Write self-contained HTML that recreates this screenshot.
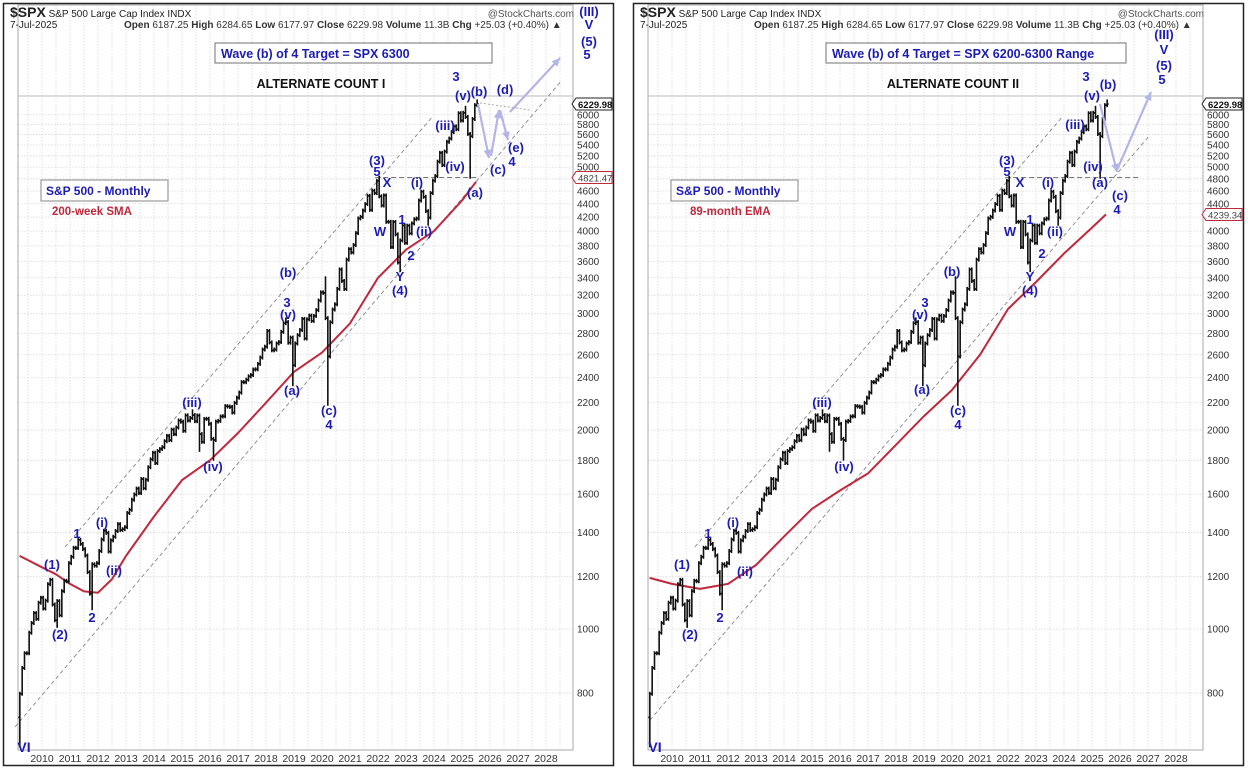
<!DOCTYPE html>
<html><head><meta charset="utf-8"><style>
html,body{margin:0;padding:0;background:#fff;}
svg{display:block;font-family:"Liberation Sans",sans-serif;}
.wl{font-weight:bold;fill:#1c1cb4;font-size:13px;text-anchor:middle;}
.yt{font-size:10px;fill:#333;}
.xt{font-size:10.5px;fill:#333;text-anchor:middle;}
</style></head><body>
<svg id="chart" width="1248" height="770" viewBox="0 0 1248 770"></svg>
<script>
// ---- data ----
const startYear = 2009, startMonth = 3; // first monthly bar: Mar 2009
const firstOpen = 735;
const closes = [
798,873,919,919,987,1021,1057,1036,1096,1115,
1074,1104,1169,1187,1089,1031,1102,1049,1141,1183,1181,1258,
1286,1327,1326,1364,1345,1321,1292,1219,1131,1253,1247,1258,
1312,1366,1408,1398,1310,1362,1379,1407,1441,1412,1416,1426,
1498,1515,1569,1598,1631,1606,1686,1633,1682,1757,1806,1848,
1783,1859,1872,1884,1924,1960,1931,2003,1972,2018,2068,2059,
1995,2105,2068,2086,2107,2063,2104,1972,1920,2079,2080,2044,
1940,1932,2060,2065,2097,2099,2174,2171,2168,2126,2199,2239,
2279,2364,2363,2384,2412,2423,2470,2472,2519,2575,2648,2674,
2824,2714,2641,2648,2705,2718,2816,2902,2914,2712,2760,2507,
2704,2784,2834,2946,2752,2942,2980,2926,2977,3038,3141,3231,
3226,2954,2585,2912,3044,3100,3271,3500,3363,3270,3622,3756,
3714,3811,3973,4181,4204,4298,4395,4523,4308,4605,4567,4766,
4516,4374,4530,4132,4132,3785,4130,3955,3586,3872,4080,3840,
4077,3970,4109,4169,4180,4450,4589,4508,4288,4194,4568,4770,
4846,5096,5254,5036,5278,5460,5522,5648,5762,5705,6032,5882,
6041,5955,5612,5569,5912,6205,6230];
const extremeLows = [[2009,3,667],[2010,7,1011],[2011,10,1075],[2015,8,1867],[2016,2,1810],[2018,12,2347],[2020,3,2192],[2022,10,3492],[2023,10,4104],[2025,4,4835]];
const extremeHighs = [[2015,5,2135],[2018,9,2941],[2020,2,3394],[2022,1,4818],[2025,2,6147],[2025,7,6285]];
const smaTimes = [2009.2,2010,2010.5,2011,2011.5,2012,2012.5,2013,2014,2015,2016,2017,2018,2019,2020,2021,2022,2023,2024,2025,2025.5];
const smaValues = [1290,1240,1210,1170,1140,1135,1190,1290,1480,1680,1800,1980,2200,2450,2620,2900,3400,3750,4000,4450,4750];
const emaTimes = [2009.2,2010,2011,2012,2013,2014,2015,2016,2017,2018,2019,2020,2021,2022,2023,2024,2025,2025.5];
const emaValues = [1195,1170,1150,1170,1250,1380,1520,1620,1720,1900,2100,2300,2600,3050,3350,3700,4050,4240];
const yTicks = [800,1000,1200,1400,1600,1800,2000,2200,2400,2600,2800,3000,3200,3400,3600,3800,4000,4200,4400,4600,4800,5000,5200,5400,5600,5800,6000];
const xYears = [2010,2011,2012,2013,2014,2015,2016,2017,2018,2019,2020,2021,2022,2023,2024,2025,2026,2027,2028];

// ---- axes ----
const PL=18, PR=573, PT=5, PB=750;
function xs(t){return 42+(t-2010)*28;}
function ys(v){return 629-287*Math.log(v/1000);}
const NS="http://www.w3.org/2000/svg";
const svg=document.getElementById('chart');
function mk(tag,attrs,parent){const e=document.createElementNS(NS,tag);for(const k in attrs)e.setAttribute(k,attrs[k]);(parent||svg).appendChild(e);return e;}
function txt(s,attrs,parent){const e=mk('text',attrs,parent);e.textContent=s;return e;}

function drawPanel(ox, cfg){
  const g=mk('g',{transform:'translate('+ox+',0)'});
  
  
  mk('rect',{x:3.5,y:3.5,width:610,height:762,fill:'#fff',stroke:'#222','stroke-width':1.5},g);
  const grid=mk('g',{stroke:'#d8d8d8','stroke-width':0.8,'stroke-dasharray':'1.5,1.5'},g);
  
  
  for(let y=2009.5;y<=2028.6;y+=0.5){const x=xs(y);if(x>PL&&x<PR)mk('line',{x1:x,x2:x,y1:PT,y2:PB},grid);}
  yTicks.forEach(v=>{mk('line',{x1:PL,x2:PR,y1:ys(v),y2:ys(v)},grid);});
  mk('rect',{x:PL,y:PT,width:PR-PL,height:PB-PT,fill:'none',stroke:'#aaa','stroke-width':1},g);
  mk('line',{x1:PL,x2:PR,y1:96,y2:96,stroke:'#bbb','stroke-width':1},g);
  const yl=mk('g',{},g);
  
  
  yTicks.forEach(v=>{const y=ys(v);if(Math.abs(y-ys(cfg.maLabel))>7)txt(String(v),{x:577,y:y+3.5,class:'yt'},yl);});
  const xl=mk('g',{},g);
  
  
  xYears.forEach(yv=>txt(String(yv),{x:xs(yv),y:762,class:'xt'},xl));
  cfg.channels.forEach(c=>{const l=mk('line',{x1:xs(c[0]),y1:ys(c[1]),x2:xs(c[2]),y2:ys(c[3]),stroke:'#888','stroke-width':0.9,'stroke-dasharray':'4,3'},g);
    
    });
  const hl=mk('line',{x1:xs(2021.9),x2:xs(cfg.hEnd),y1:ys(4821),y2:ys(4821),stroke:'#777','stroke-width':1,'stroke-dasharray':'5,3'},g);
  
  
  const ma=mk('path',{d:cfg.maT.map((t,i)=>(i?'L':'M')+xs(t).toFixed(1)+','+ys(cfg.maV[i]).toFixed(1)).join(''),fill:'none',stroke:'#c0283c','stroke-width':2,'stroke-linejoin':'round'},g);
  
  
  const bars=mk('g',{stroke:'#111','stroke-width':1.6},g);
  
  
  let prev=firstOpen;
  closes.forEach((c,i)=>{
    const m=startMonth-1+i, yr=startYear+Math.floor(m/12), mo=m%12+1;
    const t=yr+(mo-1)/12+1/24, x=xs(t);
    let hi=Math.max(prev,c), lo=Math.min(prev,c);
    const el=extremeLows.find(e=>e[0]===yr&&e[1]===mo); if(el)lo=Math.min(lo,el[2]);
    const eh=extremeHighs.find(e=>e[0]===yr&&e[1]===mo); if(eh)hi=Math.max(hi,eh[2]);
    const b=mk('line',{x1:x,x2:x,y1:ys(hi)-2,y2:ys(lo)+2},bars);
    
    
    mk('line',{x1:x-1.5,x2:x,y1:ys(prev),y2:ys(prev)},bars);
    mk('line',{x1:x,x2:x+1.5,y1:ys(c),y2:ys(c)},bars);
    prev=c;
  });
  const ar=mk('g',{stroke:'#b4b4e6','stroke-width':2.2,fill:'none'},g);
  
  
  cfg.arrows.forEach(p=>{mk('polyline',{points:p.map(q=>q.join(',')).join(' ')},ar);
    const a=p[p.length-2],b=p[p.length-1],ang=Math.atan2(b[1]-a[1],b[0]-a[0]);
    const h=[[b[0],b[1]],[b[0]-9*Math.cos(ang-0.45),b[1]-9*Math.sin(ang-0.45)],[b[0]-9*Math.cos(ang+0.45),b[1]-9*Math.sin(ang+0.45)]];
    mk('polygon',{points:h.map(q=>q.join(',')).join(' '),fill:'#b4b4e6',stroke:'none'},ar);});
  if(cfg.dotted)mk('line',{x1:cfg.dotted[0],y1:cfg.dotted[1],x2:cfg.dotted[2],y2:cfg.dotted[3],stroke:'#aaa','stroke-width':1,'stroke-dasharray':'2,2'},g);
  const wl=mk('g',{},g);
  
  
  cfg.labels.forEach(l=>{const t=txt(l[0],{x:l[1],y:l[2]+4,class:'wl'},wl);if(l[3])t.setAttribute('style',l[3]);});
  const hd=mk('g',{},g);
  
  
  const h1=txt('',{x:10,y:17,'font-size':'10px',fill:'#222'},hd);
  h1.innerHTML='<tspan font-weight="bold" font-size="14px">$SPX</tspan> S&amp;P 500 Large Cap Index INDX';
  txt('@StockCharts.com',{x:574,y:17,'font-size':'10px',fill:'#555','text-anchor':'end'},hd);
  txt('7-Jul-2025',{x:10,y:28,'font-size':'10px',fill:'#222'},hd);
  const h2=txt('',{x:124,y:28,'font-size':'10px',fill:'#333'},hd);
  h2.innerHTML='<tspan font-weight="bold">Open</tspan> 6187.25 <tspan font-weight="bold">High</tspan> 6284.65 <tspan font-weight="bold">Low</tspan> 6177.97 <tspan font-weight="bold">Close</tspan> 6229.98 <tspan font-weight="bold">Volume</tspan> 11.3B <tspan font-weight="bold">Chg</tspan> +25.03 (+0.40%) ▲';
  const tb=mk('g',{},g);
  
  
  mk('rect',{x:cfg.box[0],y:43,width:cfg.box[1],height:20,fill:'#fff',stroke:'#888','stroke-width':1.2},tb);
  txt(cfg.target,{x:cfg.box[0]+6,y:58,'font-size':'12.5px','font-weight':'bold',fill:'#1c1cb4'},tb);
  const tt=txt(cfg.title,{x:cfg.titleX,y:88,'font-size':'12.5px','font-weight':'bold',fill:'#111','text-anchor':'middle'},g);
  
  
  const lg=mk('g',{},g);
  
  
  mk('rect',{x:41,y:180,width:127,height:21,fill:'#fff',stroke:'#999','stroke-width':1.2},lg);
  txt('S&P 500 - Monthly',{x:46,y:195,'font-size':'12px','font-weight':'bold',fill:'#1c1cb4'},lg);
  txt(cfg.maName,{x:cfg.maNameX,y:215,'font-size':'11.5px','font-weight':'bold',fill:'#c0283c'},lg);
  const p1=mk('g',{},g);
  
  
  mk('path',{d:'M572,'+ys(6230)+' l4,-6 h36 v12 h-36 z',fill:'#fff',stroke:'#222'},p1);
  txt('6229.98',{x:578,y:ys(6230)+4,'font-size':'9.5px','font-weight':'bold',fill:'#111'},p1);
  const p2=mk('g',{},g);
  
  
  const my=ys(cfg.maLabel);
  mk('path',{d:'M572,'+my+' l4,-6 h36 v12 h-36 z',fill:'#fff',stroke:'#c0283c'},p2);
  txt(cfg.maLabelText,{x:578,y:my+4,'font-size':'9.5px',fill:'#444'},p2);
}

drawPanel(0,{name:'left-chart-alternate-count-1',maT:smaTimes,maV:smaValues,maLabel:4821,maLabelText:'4821.47',
  maName:'200-week SMA',maNameX:52,target:'Wave (b) of 4 Target = SPX 6300',box:[215,277],title:'ALTERNATE COUNT  I',titleX:321,hEnd:2025.6,
  channels:[[2010.82,1331,2023.93,5950],[2009.04,711,2028.57,6770]],
  arrows:[[[478,104],[489,158]],[[491,156],[499,110]],[[500,110],[508,140]],[[510,112],[560,58]]],
  dotted:[480,103,530,110],
  labels:[['(III)',589,12],['V',589,25],['(5)',589,42],['5',587,55],['3',456,77],['(v)',463,96],['(b)',479,92],['(d)',505,90],['(iii)',445,126],['(e)',516,148],['(iv)',455,167],['(c)',498,170],['4',512,162],['(a)',475,193],
  ['(3)',377,161],['5',377,172],['X',387,183],['(i)',417,183],['W',380,232],['1',402,220],['(ii)',424,232],['2',411,256],['Y',400,277],['(4)',400,291],
  ['(b)',288,273],['3',287,303],['(v)',288,315],['(a)',292,391],['(c)',329,411],['4',329,425],
  ['(iii)',192,403],['(iv)',213,467],['(i)',102,523],['1',77,534],['(1)',52,565],['(ii)',114,571],['2',92,618],['(2)',60,635],['VI',24,748,'font-size:14px']]});

drawPanel(630,{name:'right-chart-alternate-count-2',maT:emaTimes,maV:emaValues,maLabel:4239,maLabelText:'4239.34',
  maName:'89-month EMA',maNameX:60,target:'Wave (b) of 4 Target = SPX 6200-6300 Range',box:[196,300],title:'ALTERNATE COUNT II',titleX:323,hEnd:2026.7,
  channels:[[2010.82,1331,2023.93,5950],[2009.21,728,2027.07,5590]],
  arrows:[[[470,104],[487,172]],[[487,170],[521,92]]],
  dotted:null,
  labels:[['(III)',534,35],['V',534,50],['(5)',534,66],['5',532,80],['3',456,77],['(v)',462,96],['(b)',478,85],['(iii)',445,125],['(iv)',463,167],['(a)',470,183],['(c)',490,196],['4',487,210],
  ['(3)',377,161],['5',377,172],['X',390,183],['(i)',418,183],['W',380,232],['1',400,220],['(ii)',425,232],['2',412,254],['Y',400,277],['(4)',400,291],
  ['(b)',322,272],['3',295,303],['(v)',290,315],['(a)',292,390],['(c)',328,411],['4',328,425],
  ['(iii)',192,403],['(iv)',214,467],['(i)',103,523],['1',78,534],['(1)',52,565],['(ii)',115,572],['2',90,618],['(2)',60,635],['VI',25,748,'font-size:14px']]});
</script>
</body></html>
